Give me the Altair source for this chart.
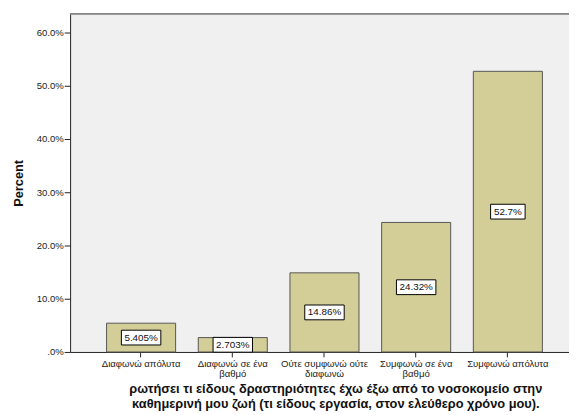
import altair as alt
import pandas as pd

categories = ["Διαφωνώ απόλυτα", "Διαφωνώ σε ένα βαθμό", "Ούτε συμφωνώ ούτε διαφωνώ",
              "Συμφωνώ σε ένα βαθμό", "Συμφωνώ απόλυτα"]
percents = [5.405, 2.703, 14.86, 24.32, 52.7]
labels = ["5.405%", "2.703%", "14.86%", "24.32%", "52.7%"]
y_ticks = [0, 10, 20, 30, 40, 50, 60]
x_title = ["ρωτήσει τι είδους δραστηριότητες έχω έξω από το νοσοκομείο στην",
           "καθημερινή μου ζωή (τι είδους εργασία, στον ελεύθερο χρόνο μου)."]

df = pd.DataFrame({"cat": categories, "pct": percents, "label": labels})
df["mid"] = df["pct"] / 2

FONT = "Liberation Sans"
YMAX = 63.5

x_enc = alt.X("cat:N", sort=categories,
              scale=alt.Scale(paddingInner=0.247, paddingOuter=0.344, align=0.578),
              axis=alt.Axis(title=x_title, labelAngle=0, labelFont=FONT, labelFontSize=9.7,
                            labelColor="#222", labelLineHeight=10, labelPadding=2,
                            tickSize=5, tickColor="#222", domainColor="#222",
                            titleFont=FONT, titleFontSize=13, titleFontWeight="bold",
                            titleColor="#111", titleX=269, titleY=31, titleBaseline="top",
                            titleLineHeight=15,
                            labelExpr="length(datum.label) > 15 ? [substring(datum.label, 0, lastindexof(datum.label, ' ')), substring(datum.label, lastindexof(datum.label, ' ') + 1)] : datum.label"))

y_scale = alt.Scale(domain=[0, YMAX], nice=False, zero=True)

bars = alt.Chart(df).mark_bar(color="#d3ce97", stroke="#555", strokeWidth=1).encode(
    x=x_enc,
    y=alt.Y("pct:Q", scale=y_scale,
            axis=alt.Axis(title="Percent", values=y_ticks, grid=False,
                          labelExpr="datum.value == 0 ? '.0%' : format(datum.value, '.1f') + '%'",
                          labelFont=FONT, labelFontSize=9.7, labelColor="#222", labelPadding=1,
                          tickSize=6, tickColor="#222", domainColor="#222",
                          titleFont=FONT, titleFontSize=13, titleFontWeight="bold",
                          titleColor="#111", titlePadding=11)),
)

top_line = alt.Chart(df).mark_rule(color="#888", strokeWidth=1).encode(
    y=alt.datum(YMAX, scale=y_scale)
)

box6 = alt.Chart(df).transform_filter("length(datum.label) >= 6").mark_rect(
    width=40, height=15, fill="white", stroke="black", strokeWidth=1
).encode(x=alt.X("cat:N", sort=categories), y=alt.Y("mid:Q"))

box5 = alt.Chart(df).transform_filter("length(datum.label) < 6").mark_rect(
    width=35, height=15, fill="white", stroke="black", strokeWidth=1
).encode(x=alt.X("cat:N", sort=categories), y=alt.Y("mid:Q"))

text = alt.Chart(df).mark_text(font=FONT, fontSize=10, color="#111", baseline="middle",
                               align="center").encode(
    x=alt.X("cat:N", sort=categories), y=alt.Y("mid:Q"), text="label:N"
)

chart = alt.layer(bars, top_line, box6, box5, text).properties(
    width=506, height=343,
    autosize=alt.AutoSizeParams(type="none"),
    padding={"left": 63, "top": 3, "right": 0, "bottom": 58},
    background="white",
).configure_view(fill="#f0f0f0", stroke=None)

chart.save("out.html", embed_options={"renderer": "svg", "actions": False})
